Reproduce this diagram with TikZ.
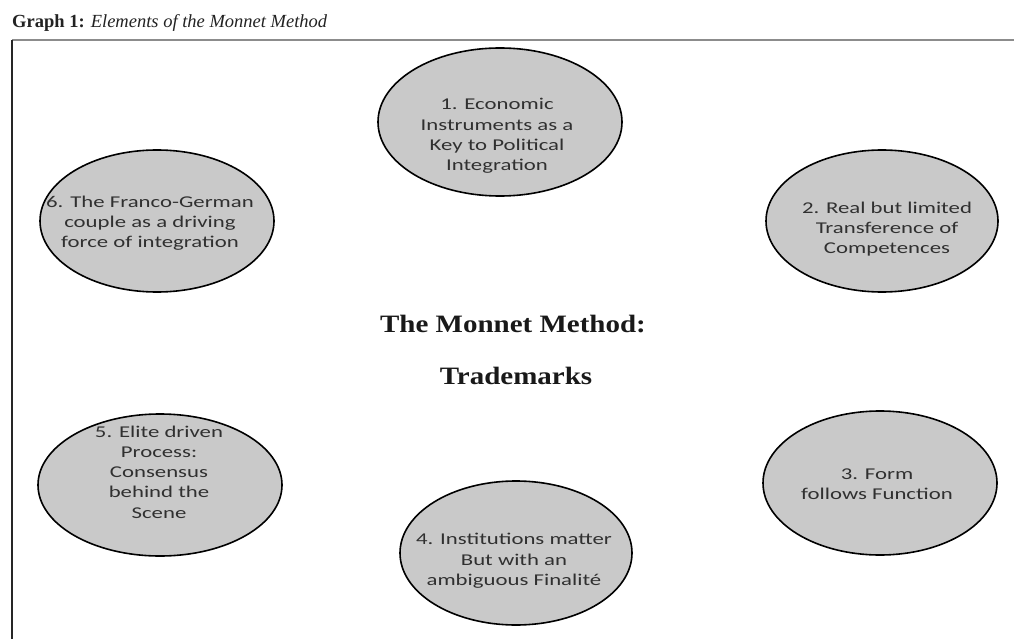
\documentclass[tikz,border=0pt]{standalone}
\usepackage{fontspec}
\setmainfont{Liberation Serif}
\newfontfamily\ellfont[FakeStretch=1.38]{Carlito}
\newfontfamily\centerfont[FakeStretch=1.16]{Liberation Serif}
\usetikzlibrary{shapes.geometric}
\definecolor{ellfill}{RGB}{201,201,201}
\definecolor{elltext}{RGB}{48,48,48}
\definecolor{titletext}{RGB}{35,35,35}
\tikzset{
  oval/.style={ellipse, draw=black, line width=1.6pt, fill=ellfill, inner sep=0pt},
  ovaltext/.style={align=center, text=elltext, inner sep=0pt,
    font=\ellfont\fontsize{16.5}{20.3}\selectfont},
  centertext/.style={text=black!90, inner sep=0pt,
    font=\centerfont\bfseries\fontsize{25}{30}\selectfont},
  frameline/.style={line width=1.6pt}
}
\begin{document}
\begin{tikzpicture}[x=1pt,y=-1pt]
\useasboundingbox (0,0) rectangle (1014,639);
% title
\node[anchor=base west, inner sep=0pt, text=titletext,
      font=\fontsize{18.5}{22}\selectfont] (title) at (12,28)
  {\textbf{Graph 1:} \textit{Elements of the Monnet Method}};
% frame
\coordinate (ftl) at (12,40);
\coordinate (ftr) at (1014,40);
\coordinate (fbl) at (12,639);
\draw[frameline, draw=black!45] (ftl) -- (ftr);
\draw[frameline, draw=black!85] (ftl) -- (fbl);
% ellipses
\node[oval, minimum width=244pt, minimum height=148pt] (e1) at (500,122) {};
\node[oval, minimum width=232pt, minimum height=142pt] (e2) at (882,221) {};
\node[oval, minimum width=234pt, minimum height=144pt] (e3) at (880,483) {};
\node[oval, minimum width=232pt, minimum height=144pt] (e4) at (516,553) {};
\node[oval, minimum width=244pt, minimum height=142pt] (e5) at (160,485) {};
\node[oval, minimum width=234pt, minimum height=142pt] (e6) at (157,221) {};
% ellipse texts
\node[ovaltext] (t1) at (497,136) {1. Economic\\Instruments as a\\Key to Political\\Integration};
\node[ovaltext] (t2) at (887,229) {2. Real but limited\\Transference of\\Competences};
\node[ovaltext] (t3) at (877,484) {3. Form\\follows Function};
\node[ovaltext] (t4) at (514,561) {4. Institutions matter\\But with an\\ambiguous Finalité};
\node[ovaltext] (t5) at (159,472) {5. Elite driven\\Process:\\Consensus\\behind the\\Scene};
\node[ovaltext] (t6) at (150,223) {6. The Franco-German\\couple as a driving\\force of integration};
% centre
\node[centertext] (c1) at (513,324) {The Monnet Method:};
\node[centertext] (c2) at (516,376) {Trademarks};
\end{tikzpicture}
\end{document}
